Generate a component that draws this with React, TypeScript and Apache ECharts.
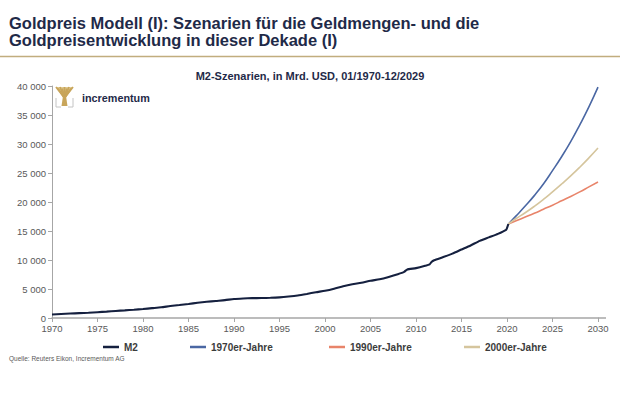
import React, { useEffect, useRef } from "react";
import * as echarts from "echarts";

const TITLE_LINES = [
  "Goldpreis Modell (I): Szenarien für die Geldmengen- und die",
  "Goldpreisentwicklung in dieser Dekade (I)",
];
const SUBTITLE = "M2-Szenarien, in Mrd. USD, 01/1970-12/2029";
const SOURCE = "Quelle: Reuters Eikon, Incrementum AG";
const LOGO_TEXT = "incrementum";

const SERIES_NAMES = ["M2", "1970er-Jahre", "1990er-Jahre", "2000er-Jahre"];
const SERIES_COLORS = ["#15203f", "#4a67a3", "#e8846a", "#d5c59d"];

// M2 history: [year, Mrd. USD]
const m2Years = [
  1970, 1971, 1972, 1973, 1974, 1975, 1976, 1977, 1978, 1979,
  1980, 1981, 1982, 1983, 1984, 1985, 1986, 1987, 1988, 1989,
  1990, 1991, 1992, 1993, 1994, 1995, 1996, 1997, 1998, 1999,
  2000, 2001, 2002, 2003, 2004, 2005, 2006, 2007, 2008, 2008.7,
  2009, 2010, 2011, 2011.5, 2011.7, 2012, 2013, 2014, 2015, 2016,
  2017, 2018, 2019, 2019.9, 2020.0, 2020.15,
];
const m2Values = [
  600, 690, 770, 840, 900, 1000, 1100, 1220, 1320, 1430,
  1550, 1700, 1850, 2060, 2230, 2420, 2620, 2790, 2940, 3080,
  3280, 3370, 3420, 3440, 3480, 3560, 3700, 3880, 4150, 4450,
  4700, 5050, 5480, 5820, 6080, 6420, 6680, 7080, 7550, 7950,
  8330, 8600, 9000, 9250, 9650, 9950, 10500, 11100, 11800, 12500,
  13300, 13900, 14500, 15200, 15500, 16200,
];

const scenarioYears = [2020.15, 2021, 2022, 2023, 2024, 2025, 2026, 2027, 2028, 2029, 2030];
const s1970 = [16200, 17600, 19300, 21100, 23100, 25400, 27800, 30400, 33300, 36400, 39800];
const s1990 = [16200, 16750, 17400, 18050, 18750, 19450, 20200, 20950, 21750, 22600, 23450];
const s2000 = [16200, 17150, 18150, 19250, 20450, 21750, 23100, 24500, 26000, 27600, 29300];

const yTicks = ["0", "5 000", "10 000", "15 000", "20 000", "25 000", "30 000", "35 000", "40 000"];

const FONT = "Liberation Sans, Arial, sans-serif";
const NAVY = "#1f2a48";
const GOLD = "#c8a55a";

function pairs(xs: number[], ys: number[]) {
  return xs.map((x, i) => [x, ys[i]]);
}

const branchTops = [0, 2, 4, 6.3, 8.5, 10.7, 13, 15, 17];

export default function App() {
  const ref = useRef<HTMLDivElement>(null);
  useEffect(() => {
    if (!ref.current) return;
    const chart = echarts.init(ref.current, undefined, { renderer: "svg" });
    const legendLefts = [98, 185, 324, 459];
    const seriesData = [
      pairs(m2Years, m2Values),
      pairs(scenarioYears, s1970),
      pairs(scenarioYears, s1990),
      pairs(scenarioYears, s2000),
    ];
    chart.setOption({
      animation: false,
      backgroundColor: "#ffffff",
      textStyle: { fontFamily: FONT },
      grid: { left: 52, right: 22, top: 86, bottom: 95, containLabel: false },
      xAxis: {
        type: "value",
        min: 1970,
        max: 2030,
        interval: 5,
        axisLine: { show: true, lineStyle: { color: "#a6a6a6", width: 1.5 } },
        axisTick: { show: true, length: 4, lineStyle: { color: "#a6a6a6" } },
        splitLine: { show: false },
        axisLabel: {
          color: "#595959",
          fontSize: 9.5,
          margin: 5,
          fontFamily: FONT,
          formatter: (v: number) => String(Math.round(v)),
        },
      },
      yAxis: {
        type: "value",
        min: 0,
        max: 40000,
        interval: 5000,
        axisLine: { show: true, lineStyle: { color: "#a6a6a6", width: 1 } },
        axisTick: { show: true, length: 4, lineStyle: { color: "#a6a6a6" } },
        splitLine: { show: false },
        axisLabel: {
          color: "#595959",
          fontSize: 9.5,
          margin: 6,
          fontFamily: FONT,
          formatter: (v: number) => yTicks[Math.round(v / 5000)] ?? "",
        },
      },
      legend: SERIES_NAMES.map((n, i) => ({
        data: [n],
        left: legendLefts[i],
        top: 337,
        icon: "rect",
        itemWidth: 16,
        itemHeight: 2.5,
        itemGap: 2,
        textStyle: { color: "#3c3c3c", fontSize: 10, fontWeight: "bold", fontFamily: FONT },
      })),
      series: SERIES_NAMES.map((n, i) => ({
        name: n,
        type: "line",
        data: seriesData[i],
        smooth: i === 0 ? 0.2 : true,
        showSymbol: false,
        symbol: "none",
        lineStyle: { color: SERIES_COLORS[i], width: i === 0 ? 2.1 : 1.6 },
        itemStyle: { color: SERIES_COLORS[i] },
        z: i === 0 ? 3 : 2,
      })),
      graphic: [
        {
          type: "text",
          left: 9,
          top: 14,
          style: {
            text: TITLE_LINES.join("\n"),
            fill: NAVY,
            font: `bold 16.5px ${FONT}`,
            lineHeight: 17,
          },
        },
        {
          type: "line",
          shape: { x1: 0, y1: 56.5, x2: 620, y2: 56.5 },
          style: { stroke: "#c1ad7e", lineWidth: 1.5 },
        },
        {
          type: "line",
          shape: { x1: 598, y1: 318, x2: 606, y2: 318 },
          style: { stroke: "#a6a6a6", lineWidth: 1.5 },
        },
        {
          type: "text",
          left: "center",
          top: 70,
          style: { text: SUBTITLE, fill: NAVY, font: `bold 11px ${FONT}` },
        },
        // logo icon
        {
          type: "group",
          x: 56,
          y: 87,
          children: [
            { type: "polygon", shape: { points: [[0, 0], [17, 0], [10, 10], [7, 10]] }, style: { fill: "#e2cd97" } },
            ...branchTops.map((bx, k) => ({
              type: "line",
              shape: { x1: bx, y1: k % 2 === 0 ? 0 : 1.5, x2: 8.5, y2: 11 },
              style: { stroke: GOLD, lineWidth: 1.8 },
            })),
            { type: "polygon", shape: { points: [[7, 9], [10, 9], [11.5, 19], [5.5, 19]] }, style: { fill: GOLD } },
            { type: "polyline", shape: { points: [[0, 11], [0, 20], [5, 20]] }, style: { stroke: "#c4c4c4", lineWidth: 1, fill: "none" } },
            { type: "polyline", shape: { points: [[17, 11], [17, 20], [12, 20]] }, style: { stroke: "#c4c4c4", lineWidth: 1, fill: "none" } },
          ],
        },
        {
          type: "text",
          left: 82,
          top: 92,
          style: { text: LOGO_TEXT, fill: NAVY, font: `bold 10.8px ${FONT}` },
        },
        {
          type: "text",
          left: 9,
          top: 355,
          style: { text: SOURCE, fill: "#595959", font: `6.5px ${FONT}` },
        },
      ],
    });
    return () => chart.dispose();
  }, []);
  return (
    <div
      ref={ref}
      style={{ position: "fixed", left: 0, top: 0, width: 620, height: 413, background: "#fff" }}
    />
  );
}
